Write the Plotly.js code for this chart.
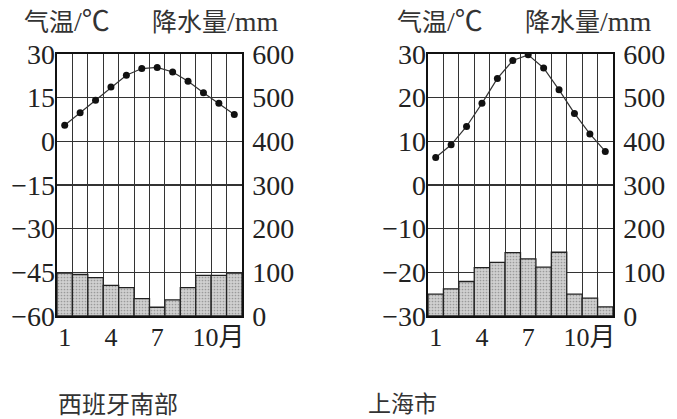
<!DOCTYPE html>
<html><head><meta charset="utf-8">
<script src="https://cdn.plot.ly/plotly-3.0.1.min.js"></script>
<style>html,body{margin:0;padding:0;background:#fff;}#chart{width:677px;height:419px;}</style>
</head><body><div id="chart"></div>
<script>
const months = [1,2,3,4,5,6,7,8,9,10,11,12];
const monthTickText = ['1','4','7','10月'];

const spainTemp = [5.5, 9.8, 14.1, 18.7, 22.7, 25.0, 25.4, 23.8, 20.6, 16.7, 13.1, 9.2];
const spainPrecip = [98, 95, 88, 70, 65, 40, 20, 37, 65, 93, 93, 98];
const shanghaiTemp = [6.3, 9.2, 13.4, 18.7, 24.4, 28.5, 29.8, 26.8, 21.8, 16.4, 11.7, 7.7];
const shanghaiPrecip = [50, 62, 79, 111, 123, 145, 131, 112, 146, 50, 41, 21];

const spainTempTicks = [-60,-45,-30,-15,0,15,30];
const shanghaiTempTicks = [-30,-20,-10,0,10,20,30];
const precipTicks = [0,100,200,300,400,500,600];

const tempTitleCJK = '气温', tempTitleUnit = '/℃';
const precipTitleCJK = '降水量', precipTitleUnit = '/mm';
const placeNames = ['西班牙南部','上海市'];

// layout-only positions (tick placement, label offset of the last month label)
const monthTickPos = [1, 4, 7, 10.97];

const FONT = 'Liberation Serif, "Noto Sans CJK SC", serif';
const CJK = '"Noto Sans CJK SC", sans-serif';
const W = 677, H = 419;
const px = v => v / W;
const py = v => 1 - v / H;

function barTrace(y, xa, ya) {
  return {type:'bar', x: months, y: y, xaxis: xa, yaxis: ya, width: 1,
    marker: {color:'#cbcbcb', line:{color:'#222', width:1.3},
      pattern:{shape:'.', fgcolor:'#9a9a9a', bgcolor:'#d0d0d0', size:3, solidity:0.25}},
    hoverinfo:'skip'};
}
function lineTrace(y, xa, ya) {
  return {type:'scatter', mode:'lines+markers', x: months, y: y, xaxis: xa, yaxis: ya,
    line:{color:'#333', width:1.2}, marker:{color:'#111', size:7}, hoverinfo:'skip'};
}

const data = [
  barTrace(spainPrecip, 'x', 'y'),
  lineTrace(spainTemp, 'x', 'y2'),
  barTrace(shanghaiPrecip, 'x2', 'y3'),
  lineTrace(shanghaiTemp, 'x2', 'y4')
];

function xAxis(domain, anchor) {
  return {domain: domain, anchor: anchor, range:[0.5,12.5], tickmode:'array',
    tickvals: monthTickPos, ticktext: monthTickText, showgrid:false, zeroline:false,
    showline:true, mirror:true, linecolor:'#111', linewidth:1.6, ticks:'',
    tickfont:{family:FONT, size:26, color:'#222'}, ticklabelstandoff:-3,
    minor:{tick0:0.5, dtick:1, showgrid:true, gridcolor:'#333', gridwidth:1.1, ticks:''}};
}
function precipAxis(anchor) {
  return {domain:[py(316), py(54)], anchor: anchor, side:'right', range:[0,600],
    tickmode:'array', tickvals: precipTicks, showgrid:true, gridcolor:'#333', gridwidth:1.1,
    zeroline:false, showline:true, mirror:true, linecolor:'#111', linewidth:1.6, ticks:'',
    tickfont:{family:FONT, size:28, color:'#222'}, ticklabelstandoff:3};
}
function tempAxis(overlay, anchor, ticks) {
  return {overlaying: overlay, anchor: anchor, side:'left',
    range:[ticks[0], ticks[ticks.length-1]], tickmode:'array', tickvals: ticks,
    showgrid:false, zeroline:false, showline:false, ticks:'',
    tickfont:{family:FONT, size:28, color:'#222'}, ticklabelstandoff:1};
}
function header(cjk, unit, x) {
  return {text: '<span style="font-family:Noto Sans CJK SC;font-size:25px">' + cjk + '</span>' + unit,
    xref:'paper', yref:'paper', x:px(x), y:py(20), xanchor:'left', yanchor:'middle',
    showarrow:false, font:{family:FONT, size:28, color:'#333'}};
}

const layout = {
  width: W, height: H, margin:{l:0,r:0,t:0,b:0},
  paper_bgcolor:'#fff', plot_bgcolor:'#fff', showlegend:false, bargap:0,
  xaxis: xAxis([px(57), px(242)], 'y'),
  yaxis: precipAxis('x'),
  yaxis2: tempAxis('y', 'x', spainTempTicks),
  xaxis2: xAxis([px(428), px(613)], 'y3'),
  yaxis3: precipAxis('x2'),
  yaxis4: tempAxis('y3', 'x2', shanghaiTempTicks),
  annotations: [
    header(tempTitleCJK, tempTitleUnit, 22),
    header(precipTitleCJK, precipTitleUnit, 150),
    header(tempTitleCJK, tempTitleUnit, 395),
    header(precipTitleCJK, precipTitleUnit, 523),
    {text: placeNames[0], xref:'paper', yref:'paper', x:px(118), y:py(402), xanchor:'center', yanchor:'middle', showarrow:false, font:{family:CJK, size:24, color:'#333'}},
    {text: placeNames[1], xref:'paper', yref:'paper', x:px(402), y:py(402), xanchor:'center', yanchor:'middle', showarrow:false, font:{family:CJK, size:23, color:'#333'}}
  ]
};

Plotly.newPlot('chart', data, layout, {staticPlot:true, displayModeBar:false});
</script></body></html>
